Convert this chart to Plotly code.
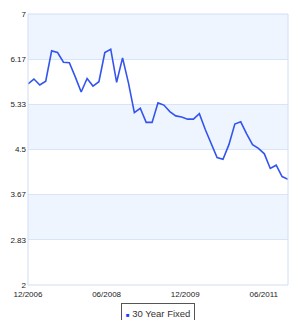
import plotly.graph_objects as go

series_name = "30 Year Fixed"
rates = [5.71, 5.80, 5.69, 5.76, 6.32, 6.29, 6.11, 6.10, 5.84, 5.56,
         5.81, 5.67, 5.75, 6.29, 6.35, 5.74, 6.19, 5.73, 5.18, 5.26,
         5.00, 5.00, 5.36, 5.32, 5.20, 5.12, 5.10, 5.06, 5.06, 5.16,
         4.87, 4.60, 4.35, 4.32, 4.59, 4.97, 5.01, 4.79, 4.59, 4.52,
         4.42, 4.15, 4.21, 4.00, 3.95]
x_tick_pos = [0, 13.3, 26.6, 39.9]
x_tick_labels = ["12/2006", "06/2008", "12/2009", "06/2011"]
y_tick_vals = [2, 2.8333, 3.6667, 4.5, 5.3333, 6.1667, 7]
y_tick_labels = ["2", "2.83", "3.67", "4.5", "5.33", "6.17", "7"]
bands = [(6.1667, 7), (4.5, 5.3333), (2.8333, 3.6667)]

x = list(range(len(rates)))

fig = go.Figure()
fig.add_trace(go.Scatter(x=x, y=rates, mode="lines",
                         line=dict(color="#3355ee", width=1.6),
                         showlegend=False, hoverinfo="skip"))

shapes = []
for lo, hi in bands:
    shapes.append(dict(type="rect", xref="paper", yref="y", x0=0, x1=1,
                       y0=lo, y1=hi, fillcolor="#eff5fe", line=dict(width=0),
                       layer="below"))
# plot border
shapes.append(dict(type="rect", xref="paper", yref="paper", x0=0, x1=1, y0=0, y1=1,
                   line=dict(color="#d0def5", width=1), layer="above"))
# legend shadow
shapes.append(dict(type="rect", xref="paper", yref="paper",
                   x0=(188 - 26) / 262, x1=(190 - 26) / 262,
                   y0=(285 - 340) / 275, y1=(285 - 305) / 275,
                   fillcolor="#b0b0b0", line=dict(width=0), layer="above"))

fig.update_layout(
    width=299, height=320,
    margin=dict(l=26, r=11, t=10, b=35),
    paper_bgcolor="white", plot_bgcolor="white",
    font=dict(family="Liberation Sans, Arial, sans-serif", size=8, color="#222"),
    shapes=shapes,
    xaxis=dict(range=[0, len(rates) - 1], tickvals=x_tick_pos, ticktext=x_tick_labels,
               showgrid=False, zeroline=False, showline=False, ticks="",
               ticklabelstandoff=3,
               tickfont=dict(size=8, color="#222")),
    yaxis=dict(range=[2, 7], tickvals=y_tick_vals, ticktext=y_tick_labels,
               showgrid=True, gridcolor="#d9e5f6", gridwidth=1, zeroline=False,
               showline=False, ticks="", ticklabelstandoff=1,
               tickfont=dict(size=8, color="#222")),
    annotations=[dict(
        xref="paper", yref="paper",
        x=(120 - 26) / 262, y=(285 - 303) / 275, xanchor="left", yanchor="top",
        text='<span style="color:#1a3cff;font-size:6px">■</span> ' + series_name,
        showarrow=False, font=dict(family="Liberation Sans, Arial, sans-serif",
                                   size=9.5, color="#333"),
        bgcolor="white", bordercolor="#555", borderwidth=1, borderpad=4,
        align="left")],
)

fig.write_html("out.html")
